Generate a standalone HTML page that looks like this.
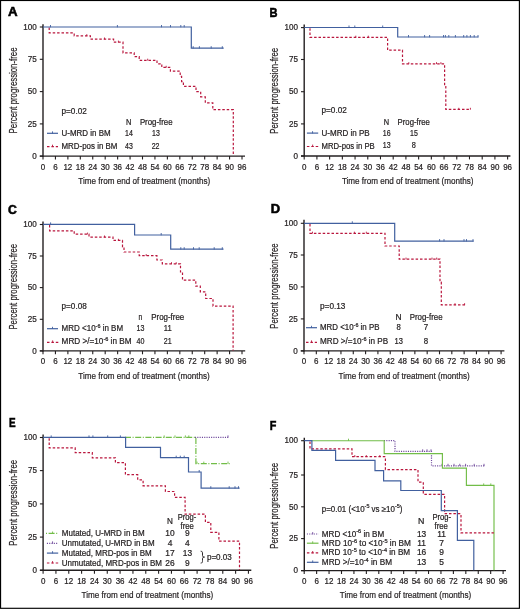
<!DOCTYPE html>
<html><head><meta charset="utf-8"><style>html,body{margin:0;padding:0;background:#fff;}svg{display:block;}</style></head><body>
<svg style="will-change:transform" width="520" height="609" viewBox="0 0 520 609" font-family='"Liberation Sans", sans-serif' fill="#231f20">
<style>text{stroke:#231f20;stroke-width:0.22px;}</style>
<rect x="0" y="0" width="520" height="609" fill="#fff"/>
<path d="M43.0,24.2 V156.7" stroke="#231f20" stroke-width="1.4" fill="none"/>
<path d="M39.8,156.1 H245.0" stroke="#231f20" stroke-width="1.4" fill="none"/>
<path d="M39.8,27.0 H43.0" stroke="#231f20" stroke-width="1.1"/>
<text x="36.80" y="29.75" font-size="8.5" text-anchor="end" textLength="13.50" lengthAdjust="spacingAndGlyphs">100</text>
<path d="M39.8,59.3 H43.0" stroke="#231f20" stroke-width="1.1"/>
<text x="36.80" y="62.05" font-size="8.5" text-anchor="end" textLength="9.00" lengthAdjust="spacingAndGlyphs">75</text>
<path d="M39.8,91.6 H43.0" stroke="#231f20" stroke-width="1.1"/>
<text x="36.80" y="94.35" font-size="8.5" text-anchor="end" textLength="9.00" lengthAdjust="spacingAndGlyphs">50</text>
<path d="M39.8,123.9 H43.0" stroke="#231f20" stroke-width="1.1"/>
<text x="36.80" y="126.65" font-size="8.5" text-anchor="end" textLength="9.00" lengthAdjust="spacingAndGlyphs">25</text>
<path d="M39.8,156.1 H43.0" stroke="#231f20" stroke-width="1.1"/>
<text x="36.80" y="158.85" font-size="8.5" text-anchor="end" textLength="4.50" lengthAdjust="spacingAndGlyphs">0</text>
<path d="M43.00,156.1 V159.5" stroke="#231f20" stroke-width="1.1"/>
<text x="43.00" y="169.60" font-size="8.5" text-anchor="middle" textLength="4.45" lengthAdjust="spacingAndGlyphs">0</text>
<path d="M55.44,156.1 V159.5" stroke="#231f20" stroke-width="1.1"/>
<text x="55.44" y="169.60" font-size="8.5" text-anchor="middle" textLength="4.45" lengthAdjust="spacingAndGlyphs">6</text>
<path d="M67.88,156.1 V159.5" stroke="#231f20" stroke-width="1.1"/>
<text x="67.88" y="169.60" font-size="8.5" text-anchor="middle" textLength="8.90" lengthAdjust="spacingAndGlyphs">12</text>
<path d="M80.31,156.1 V159.5" stroke="#231f20" stroke-width="1.1"/>
<text x="80.31" y="169.60" font-size="8.5" text-anchor="middle" textLength="8.90" lengthAdjust="spacingAndGlyphs">18</text>
<path d="M92.75,156.1 V159.5" stroke="#231f20" stroke-width="1.1"/>
<text x="92.75" y="169.60" font-size="8.5" text-anchor="middle" textLength="8.90" lengthAdjust="spacingAndGlyphs">24</text>
<path d="M105.19,156.1 V159.5" stroke="#231f20" stroke-width="1.1"/>
<text x="105.19" y="169.60" font-size="8.5" text-anchor="middle" textLength="8.90" lengthAdjust="spacingAndGlyphs">30</text>
<path d="M117.63,156.1 V159.5" stroke="#231f20" stroke-width="1.1"/>
<text x="117.63" y="169.60" font-size="8.5" text-anchor="middle" textLength="8.90" lengthAdjust="spacingAndGlyphs">36</text>
<path d="M130.07,156.1 V159.5" stroke="#231f20" stroke-width="1.1"/>
<text x="130.07" y="169.60" font-size="8.5" text-anchor="middle" textLength="8.90" lengthAdjust="spacingAndGlyphs">42</text>
<path d="M142.50,156.1 V159.5" stroke="#231f20" stroke-width="1.1"/>
<text x="142.50" y="169.60" font-size="8.5" text-anchor="middle" textLength="8.90" lengthAdjust="spacingAndGlyphs">48</text>
<path d="M154.94,156.1 V159.5" stroke="#231f20" stroke-width="1.1"/>
<text x="154.94" y="169.60" font-size="8.5" text-anchor="middle" textLength="8.90" lengthAdjust="spacingAndGlyphs">54</text>
<path d="M167.38,156.1 V159.5" stroke="#231f20" stroke-width="1.1"/>
<text x="167.38" y="169.60" font-size="8.5" text-anchor="middle" textLength="8.90" lengthAdjust="spacingAndGlyphs">60</text>
<path d="M179.82,156.1 V159.5" stroke="#231f20" stroke-width="1.1"/>
<text x="179.82" y="169.60" font-size="8.5" text-anchor="middle" textLength="8.90" lengthAdjust="spacingAndGlyphs">66</text>
<path d="M192.26,156.1 V159.5" stroke="#231f20" stroke-width="1.1"/>
<text x="192.26" y="169.60" font-size="8.5" text-anchor="middle" textLength="8.90" lengthAdjust="spacingAndGlyphs">72</text>
<path d="M204.69,156.1 V159.5" stroke="#231f20" stroke-width="1.1"/>
<text x="204.69" y="169.60" font-size="8.5" text-anchor="middle" textLength="8.90" lengthAdjust="spacingAndGlyphs">78</text>
<path d="M217.13,156.1 V159.5" stroke="#231f20" stroke-width="1.1"/>
<text x="217.13" y="169.60" font-size="8.5" text-anchor="middle" textLength="8.90" lengthAdjust="spacingAndGlyphs">84</text>
<path d="M229.57,156.1 V159.5" stroke="#231f20" stroke-width="1.1"/>
<text x="229.57" y="169.60" font-size="8.5" text-anchor="middle" textLength="8.90" lengthAdjust="spacingAndGlyphs">90</text>
<path d="M242.01,156.1 V159.5" stroke="#231f20" stroke-width="1.1"/>
<text x="242.01" y="169.60" font-size="8.5" text-anchor="middle" textLength="8.90" lengthAdjust="spacingAndGlyphs">96</text>
<text transform="translate(17.0,90.45) rotate(-90)" font-size="10" text-anchor="middle" textLength="85.90" lengthAdjust="spacingAndGlyphs">Percent progression-free</text>
<text x="78.30" y="183.70" font-size="9.6" textLength="131.90" lengthAdjust="spacingAndGlyphs">Time from end of treatment (months)</text>
<text x="8.10" y="16.10" font-size="12.4" textLength="9.60" lengthAdjust="spacingAndGlyphs" font-weight="bold" fill="#000" style="stroke:#000;stroke-width:0.55px">A</text>
<path d="M304.2,24.6 V156.6" stroke="#231f20" stroke-width="1.4" fill="none"/>
<path d="M301.0,156.0 H510.4" stroke="#231f20" stroke-width="1.4" fill="none"/>
<path d="M301.0,27.6 H304.2" stroke="#231f20" stroke-width="1.1"/>
<text x="298.00" y="30.35" font-size="8.5" text-anchor="end" textLength="13.50" lengthAdjust="spacingAndGlyphs">100</text>
<path d="M301.0,59.5 H304.2" stroke="#231f20" stroke-width="1.1"/>
<text x="298.00" y="62.25" font-size="8.5" text-anchor="end" textLength="9.00" lengthAdjust="spacingAndGlyphs">75</text>
<path d="M301.0,91.7 H304.2" stroke="#231f20" stroke-width="1.1"/>
<text x="298.00" y="94.45" font-size="8.5" text-anchor="end" textLength="9.00" lengthAdjust="spacingAndGlyphs">50</text>
<path d="M301.0,123.9 H304.2" stroke="#231f20" stroke-width="1.1"/>
<text x="298.00" y="126.65" font-size="8.5" text-anchor="end" textLength="9.00" lengthAdjust="spacingAndGlyphs">25</text>
<path d="M301.0,156.0 H304.2" stroke="#231f20" stroke-width="1.1"/>
<text x="298.00" y="158.75" font-size="8.5" text-anchor="end" textLength="4.50" lengthAdjust="spacingAndGlyphs">0</text>
<path d="M304.20,156.0 V159.4" stroke="#231f20" stroke-width="1.1"/>
<text x="304.20" y="169.50" font-size="8.5" text-anchor="middle" textLength="4.45" lengthAdjust="spacingAndGlyphs">0</text>
<path d="M316.91,156.0 V159.4" stroke="#231f20" stroke-width="1.1"/>
<text x="316.91" y="169.50" font-size="8.5" text-anchor="middle" textLength="4.45" lengthAdjust="spacingAndGlyphs">6</text>
<path d="M329.63,156.0 V159.4" stroke="#231f20" stroke-width="1.1"/>
<text x="329.63" y="169.50" font-size="8.5" text-anchor="middle" textLength="8.90" lengthAdjust="spacingAndGlyphs">12</text>
<path d="M342.34,156.0 V159.4" stroke="#231f20" stroke-width="1.1"/>
<text x="342.34" y="169.50" font-size="8.5" text-anchor="middle" textLength="8.90" lengthAdjust="spacingAndGlyphs">18</text>
<path d="M355.06,156.0 V159.4" stroke="#231f20" stroke-width="1.1"/>
<text x="355.06" y="169.50" font-size="8.5" text-anchor="middle" textLength="8.90" lengthAdjust="spacingAndGlyphs">24</text>
<path d="M367.77,156.0 V159.4" stroke="#231f20" stroke-width="1.1"/>
<text x="367.77" y="169.50" font-size="8.5" text-anchor="middle" textLength="8.90" lengthAdjust="spacingAndGlyphs">30</text>
<path d="M380.48,156.0 V159.4" stroke="#231f20" stroke-width="1.1"/>
<text x="380.48" y="169.50" font-size="8.5" text-anchor="middle" textLength="8.90" lengthAdjust="spacingAndGlyphs">36</text>
<path d="M393.20,156.0 V159.4" stroke="#231f20" stroke-width="1.1"/>
<text x="393.20" y="169.50" font-size="8.5" text-anchor="middle" textLength="8.90" lengthAdjust="spacingAndGlyphs">42</text>
<path d="M405.91,156.0 V159.4" stroke="#231f20" stroke-width="1.1"/>
<text x="405.91" y="169.50" font-size="8.5" text-anchor="middle" textLength="8.90" lengthAdjust="spacingAndGlyphs">48</text>
<path d="M418.63,156.0 V159.4" stroke="#231f20" stroke-width="1.1"/>
<text x="418.63" y="169.50" font-size="8.5" text-anchor="middle" textLength="8.90" lengthAdjust="spacingAndGlyphs">54</text>
<path d="M431.34,156.0 V159.4" stroke="#231f20" stroke-width="1.1"/>
<text x="431.34" y="169.50" font-size="8.5" text-anchor="middle" textLength="8.90" lengthAdjust="spacingAndGlyphs">60</text>
<path d="M444.05,156.0 V159.4" stroke="#231f20" stroke-width="1.1"/>
<text x="444.05" y="169.50" font-size="8.5" text-anchor="middle" textLength="8.90" lengthAdjust="spacingAndGlyphs">66</text>
<path d="M456.77,156.0 V159.4" stroke="#231f20" stroke-width="1.1"/>
<text x="456.77" y="169.50" font-size="8.5" text-anchor="middle" textLength="8.90" lengthAdjust="spacingAndGlyphs">72</text>
<path d="M469.48,156.0 V159.4" stroke="#231f20" stroke-width="1.1"/>
<text x="469.48" y="169.50" font-size="8.5" text-anchor="middle" textLength="8.90" lengthAdjust="spacingAndGlyphs">78</text>
<path d="M482.20,156.0 V159.4" stroke="#231f20" stroke-width="1.1"/>
<text x="482.20" y="169.50" font-size="8.5" text-anchor="middle" textLength="8.90" lengthAdjust="spacingAndGlyphs">84</text>
<path d="M494.91,156.0 V159.4" stroke="#231f20" stroke-width="1.1"/>
<text x="494.91" y="169.50" font-size="8.5" text-anchor="middle" textLength="8.90" lengthAdjust="spacingAndGlyphs">90</text>
<path d="M507.62,156.0 V159.4" stroke="#231f20" stroke-width="1.1"/>
<text x="507.62" y="169.50" font-size="8.5" text-anchor="middle" textLength="8.90" lengthAdjust="spacingAndGlyphs">96</text>
<text transform="translate(277.7,90.75) rotate(-90)" font-size="10" text-anchor="middle" textLength="85.90" lengthAdjust="spacingAndGlyphs">Percent progression-free</text>
<text x="341.90" y="183.70" font-size="9.6" textLength="131.60" lengthAdjust="spacingAndGlyphs">Time from end of treatment (months)</text>
<text x="269.50" y="16.60" font-size="12.4" textLength="8.00" lengthAdjust="spacingAndGlyphs" font-weight="bold" fill="#000" style="stroke:#000;stroke-width:0.55px">B</text>
<path d="M43.0,221.5 V351.5" stroke="#231f20" stroke-width="1.4" fill="none"/>
<path d="M39.8,350.9 H245.2" stroke="#231f20" stroke-width="1.4" fill="none"/>
<path d="M39.8,224.5 H43.0" stroke="#231f20" stroke-width="1.1"/>
<text x="36.80" y="227.25" font-size="8.5" text-anchor="end" textLength="13.50" lengthAdjust="spacingAndGlyphs">100</text>
<path d="M39.8,256.0 H43.0" stroke="#231f20" stroke-width="1.1"/>
<text x="36.80" y="258.75" font-size="8.5" text-anchor="end" textLength="9.00" lengthAdjust="spacingAndGlyphs">75</text>
<path d="M39.8,287.6 H43.0" stroke="#231f20" stroke-width="1.1"/>
<text x="36.80" y="290.35" font-size="8.5" text-anchor="end" textLength="9.00" lengthAdjust="spacingAndGlyphs">50</text>
<path d="M39.8,319.3 H43.0" stroke="#231f20" stroke-width="1.1"/>
<text x="36.80" y="322.05" font-size="8.5" text-anchor="end" textLength="9.00" lengthAdjust="spacingAndGlyphs">25</text>
<path d="M39.8,350.9 H43.0" stroke="#231f20" stroke-width="1.1"/>
<text x="36.80" y="353.65" font-size="8.5" text-anchor="end" textLength="4.50" lengthAdjust="spacingAndGlyphs">0</text>
<path d="M43.00,350.9 V354.29999999999995" stroke="#231f20" stroke-width="1.1"/>
<text x="43.00" y="364.40" font-size="8.5" text-anchor="middle" textLength="4.45" lengthAdjust="spacingAndGlyphs">0</text>
<path d="M55.44,350.9 V354.29999999999995" stroke="#231f20" stroke-width="1.1"/>
<text x="55.44" y="364.40" font-size="8.5" text-anchor="middle" textLength="4.45" lengthAdjust="spacingAndGlyphs">6</text>
<path d="M67.88,350.9 V354.29999999999995" stroke="#231f20" stroke-width="1.1"/>
<text x="67.88" y="364.40" font-size="8.5" text-anchor="middle" textLength="8.90" lengthAdjust="spacingAndGlyphs">12</text>
<path d="M80.31,350.9 V354.29999999999995" stroke="#231f20" stroke-width="1.1"/>
<text x="80.31" y="364.40" font-size="8.5" text-anchor="middle" textLength="8.90" lengthAdjust="spacingAndGlyphs">18</text>
<path d="M92.75,350.9 V354.29999999999995" stroke="#231f20" stroke-width="1.1"/>
<text x="92.75" y="364.40" font-size="8.5" text-anchor="middle" textLength="8.90" lengthAdjust="spacingAndGlyphs">24</text>
<path d="M105.19,350.9 V354.29999999999995" stroke="#231f20" stroke-width="1.1"/>
<text x="105.19" y="364.40" font-size="8.5" text-anchor="middle" textLength="8.90" lengthAdjust="spacingAndGlyphs">30</text>
<path d="M117.63,350.9 V354.29999999999995" stroke="#231f20" stroke-width="1.1"/>
<text x="117.63" y="364.40" font-size="8.5" text-anchor="middle" textLength="8.90" lengthAdjust="spacingAndGlyphs">36</text>
<path d="M130.07,350.9 V354.29999999999995" stroke="#231f20" stroke-width="1.1"/>
<text x="130.07" y="364.40" font-size="8.5" text-anchor="middle" textLength="8.90" lengthAdjust="spacingAndGlyphs">42</text>
<path d="M142.50,350.9 V354.29999999999995" stroke="#231f20" stroke-width="1.1"/>
<text x="142.50" y="364.40" font-size="8.5" text-anchor="middle" textLength="8.90" lengthAdjust="spacingAndGlyphs">48</text>
<path d="M154.94,350.9 V354.29999999999995" stroke="#231f20" stroke-width="1.1"/>
<text x="154.94" y="364.40" font-size="8.5" text-anchor="middle" textLength="8.90" lengthAdjust="spacingAndGlyphs">54</text>
<path d="M167.38,350.9 V354.29999999999995" stroke="#231f20" stroke-width="1.1"/>
<text x="167.38" y="364.40" font-size="8.5" text-anchor="middle" textLength="8.90" lengthAdjust="spacingAndGlyphs">60</text>
<path d="M179.82,350.9 V354.29999999999995" stroke="#231f20" stroke-width="1.1"/>
<text x="179.82" y="364.40" font-size="8.5" text-anchor="middle" textLength="8.90" lengthAdjust="spacingAndGlyphs">66</text>
<path d="M192.26,350.9 V354.29999999999995" stroke="#231f20" stroke-width="1.1"/>
<text x="192.26" y="364.40" font-size="8.5" text-anchor="middle" textLength="8.90" lengthAdjust="spacingAndGlyphs">72</text>
<path d="M204.69,350.9 V354.29999999999995" stroke="#231f20" stroke-width="1.1"/>
<text x="204.69" y="364.40" font-size="8.5" text-anchor="middle" textLength="8.90" lengthAdjust="spacingAndGlyphs">78</text>
<path d="M217.13,350.9 V354.29999999999995" stroke="#231f20" stroke-width="1.1"/>
<text x="217.13" y="364.40" font-size="8.5" text-anchor="middle" textLength="8.90" lengthAdjust="spacingAndGlyphs">84</text>
<path d="M229.57,350.9 V354.29999999999995" stroke="#231f20" stroke-width="1.1"/>
<text x="229.57" y="364.40" font-size="8.5" text-anchor="middle" textLength="8.90" lengthAdjust="spacingAndGlyphs">90</text>
<path d="M242.01,350.9 V354.29999999999995" stroke="#231f20" stroke-width="1.1"/>
<text x="242.01" y="364.40" font-size="8.5" text-anchor="middle" textLength="8.90" lengthAdjust="spacingAndGlyphs">96</text>
<text transform="translate(17.0,286.70) rotate(-90)" font-size="10" text-anchor="middle" textLength="85.80" lengthAdjust="spacingAndGlyphs">Percent progression-free</text>
<text x="78.30" y="378.70" font-size="9.6" textLength="131.50" lengthAdjust="spacingAndGlyphs">Time from end of treatment (months)</text>
<text x="8.00" y="213.60" font-size="12.4" textLength="8.80" lengthAdjust="spacingAndGlyphs" font-weight="bold" fill="#000" style="stroke:#000;stroke-width:0.55px">C</text>
<path d="M304.0,219.8 V351.5" stroke="#231f20" stroke-width="1.4" fill="none"/>
<path d="M300.8,350.9 H504.4" stroke="#231f20" stroke-width="1.4" fill="none"/>
<path d="M300.8,223.3 H304.0" stroke="#231f20" stroke-width="1.1"/>
<text x="297.80" y="226.05" font-size="8.5" text-anchor="end" textLength="13.50" lengthAdjust="spacingAndGlyphs">100</text>
<path d="M300.8,255.0 H304.0" stroke="#231f20" stroke-width="1.1"/>
<text x="297.80" y="257.75" font-size="8.5" text-anchor="end" textLength="9.00" lengthAdjust="spacingAndGlyphs">75</text>
<path d="M300.8,286.9 H304.0" stroke="#231f20" stroke-width="1.1"/>
<text x="297.80" y="289.65" font-size="8.5" text-anchor="end" textLength="9.00" lengthAdjust="spacingAndGlyphs">50</text>
<path d="M300.8,318.9 H304.0" stroke="#231f20" stroke-width="1.1"/>
<text x="297.80" y="321.65" font-size="8.5" text-anchor="end" textLength="9.00" lengthAdjust="spacingAndGlyphs">25</text>
<path d="M300.8,350.9 H304.0" stroke="#231f20" stroke-width="1.1"/>
<text x="297.80" y="353.65" font-size="8.5" text-anchor="end" textLength="4.50" lengthAdjust="spacingAndGlyphs">0</text>
<path d="M304.00,350.9 V354.29999999999995" stroke="#231f20" stroke-width="1.1"/>
<text x="304.00" y="364.40" font-size="8.5" text-anchor="middle" textLength="4.45" lengthAdjust="spacingAndGlyphs">0</text>
<path d="M316.32,350.9 V354.29999999999995" stroke="#231f20" stroke-width="1.1"/>
<text x="316.32" y="364.40" font-size="8.5" text-anchor="middle" textLength="4.45" lengthAdjust="spacingAndGlyphs">6</text>
<path d="M328.64,350.9 V354.29999999999995" stroke="#231f20" stroke-width="1.1"/>
<text x="328.64" y="364.40" font-size="8.5" text-anchor="middle" textLength="8.90" lengthAdjust="spacingAndGlyphs">12</text>
<path d="M340.95,350.9 V354.29999999999995" stroke="#231f20" stroke-width="1.1"/>
<text x="340.95" y="364.40" font-size="8.5" text-anchor="middle" textLength="8.90" lengthAdjust="spacingAndGlyphs">18</text>
<path d="M353.27,350.9 V354.29999999999995" stroke="#231f20" stroke-width="1.1"/>
<text x="353.27" y="364.40" font-size="8.5" text-anchor="middle" textLength="8.90" lengthAdjust="spacingAndGlyphs">24</text>
<path d="M365.59,350.9 V354.29999999999995" stroke="#231f20" stroke-width="1.1"/>
<text x="365.59" y="364.40" font-size="8.5" text-anchor="middle" textLength="8.90" lengthAdjust="spacingAndGlyphs">30</text>
<path d="M377.91,350.9 V354.29999999999995" stroke="#231f20" stroke-width="1.1"/>
<text x="377.91" y="364.40" font-size="8.5" text-anchor="middle" textLength="8.90" lengthAdjust="spacingAndGlyphs">36</text>
<path d="M390.23,350.9 V354.29999999999995" stroke="#231f20" stroke-width="1.1"/>
<text x="390.23" y="364.40" font-size="8.5" text-anchor="middle" textLength="8.90" lengthAdjust="spacingAndGlyphs">42</text>
<path d="M402.54,350.9 V354.29999999999995" stroke="#231f20" stroke-width="1.1"/>
<text x="402.54" y="364.40" font-size="8.5" text-anchor="middle" textLength="8.90" lengthAdjust="spacingAndGlyphs">48</text>
<path d="M414.86,350.9 V354.29999999999995" stroke="#231f20" stroke-width="1.1"/>
<text x="414.86" y="364.40" font-size="8.5" text-anchor="middle" textLength="8.90" lengthAdjust="spacingAndGlyphs">54</text>
<path d="M427.18,350.9 V354.29999999999995" stroke="#231f20" stroke-width="1.1"/>
<text x="427.18" y="364.40" font-size="8.5" text-anchor="middle" textLength="8.90" lengthAdjust="spacingAndGlyphs">60</text>
<path d="M439.50,350.9 V354.29999999999995" stroke="#231f20" stroke-width="1.1"/>
<text x="439.50" y="364.40" font-size="8.5" text-anchor="middle" textLength="8.90" lengthAdjust="spacingAndGlyphs">66</text>
<path d="M451.82,350.9 V354.29999999999995" stroke="#231f20" stroke-width="1.1"/>
<text x="451.82" y="364.40" font-size="8.5" text-anchor="middle" textLength="8.90" lengthAdjust="spacingAndGlyphs">72</text>
<path d="M464.13,350.9 V354.29999999999995" stroke="#231f20" stroke-width="1.1"/>
<text x="464.13" y="364.40" font-size="8.5" text-anchor="middle" textLength="8.90" lengthAdjust="spacingAndGlyphs">78</text>
<path d="M476.45,350.9 V354.29999999999995" stroke="#231f20" stroke-width="1.1"/>
<text x="476.45" y="364.40" font-size="8.5" text-anchor="middle" textLength="8.90" lengthAdjust="spacingAndGlyphs">84</text>
<path d="M488.77,350.9 V354.29999999999995" stroke="#231f20" stroke-width="1.1"/>
<text x="488.77" y="364.40" font-size="8.5" text-anchor="middle" textLength="8.90" lengthAdjust="spacingAndGlyphs">90</text>
<path d="M501.09,350.9 V354.29999999999995" stroke="#231f20" stroke-width="1.1"/>
<text x="501.09" y="364.40" font-size="8.5" text-anchor="middle" textLength="8.90" lengthAdjust="spacingAndGlyphs">96</text>
<text transform="translate(277.7,286.05) rotate(-90)" font-size="10" text-anchor="middle" textLength="85.30" lengthAdjust="spacingAndGlyphs">Percent progression-free</text>
<text x="338.60" y="378.70" font-size="9.6" textLength="131.20" lengthAdjust="spacingAndGlyphs">Time from end of treatment (months)</text>
<text x="270.80" y="212.70" font-size="12.4" textLength="9.40" lengthAdjust="spacingAndGlyphs" font-weight="bold" fill="#000" style="stroke:#000;stroke-width:0.55px">D</text>
<path d="M43.1,434.5 V570.9" stroke="#231f20" stroke-width="1.4" fill="none"/>
<path d="M39.9,570.3 H251.3" stroke="#231f20" stroke-width="1.4" fill="none"/>
<path d="M39.9,437.5 H43.1" stroke="#231f20" stroke-width="1.1"/>
<text x="36.90" y="440.25" font-size="8.5" text-anchor="end" textLength="13.50" lengthAdjust="spacingAndGlyphs">100</text>
<path d="M39.9,470.6 H43.1" stroke="#231f20" stroke-width="1.1"/>
<text x="36.90" y="473.35" font-size="8.5" text-anchor="end" textLength="9.00" lengthAdjust="spacingAndGlyphs">75</text>
<path d="M39.9,503.9 H43.1" stroke="#231f20" stroke-width="1.1"/>
<text x="36.90" y="506.65" font-size="8.5" text-anchor="end" textLength="9.00" lengthAdjust="spacingAndGlyphs">50</text>
<path d="M39.9,537.1 H43.1" stroke="#231f20" stroke-width="1.1"/>
<text x="36.90" y="539.85" font-size="8.5" text-anchor="end" textLength="9.00" lengthAdjust="spacingAndGlyphs">25</text>
<path d="M39.9,570.3 H43.1" stroke="#231f20" stroke-width="1.1"/>
<text x="36.90" y="573.05" font-size="8.5" text-anchor="end" textLength="4.50" lengthAdjust="spacingAndGlyphs">0</text>
<path d="M43.10,570.3 V573.6999999999999" stroke="#231f20" stroke-width="1.1"/>
<text x="43.10" y="583.80" font-size="8.5" text-anchor="middle" textLength="4.45" lengthAdjust="spacingAndGlyphs">0</text>
<path d="M55.93,570.3 V573.6999999999999" stroke="#231f20" stroke-width="1.1"/>
<text x="55.93" y="583.80" font-size="8.5" text-anchor="middle" textLength="4.45" lengthAdjust="spacingAndGlyphs">6</text>
<path d="M68.77,570.3 V573.6999999999999" stroke="#231f20" stroke-width="1.1"/>
<text x="68.77" y="583.80" font-size="8.5" text-anchor="middle" textLength="8.90" lengthAdjust="spacingAndGlyphs">12</text>
<path d="M81.60,570.3 V573.6999999999999" stroke="#231f20" stroke-width="1.1"/>
<text x="81.60" y="583.80" font-size="8.5" text-anchor="middle" textLength="8.90" lengthAdjust="spacingAndGlyphs">18</text>
<path d="M94.44,570.3 V573.6999999999999" stroke="#231f20" stroke-width="1.1"/>
<text x="94.44" y="583.80" font-size="8.5" text-anchor="middle" textLength="8.90" lengthAdjust="spacingAndGlyphs">24</text>
<path d="M107.27,570.3 V573.6999999999999" stroke="#231f20" stroke-width="1.1"/>
<text x="107.27" y="583.80" font-size="8.5" text-anchor="middle" textLength="8.90" lengthAdjust="spacingAndGlyphs">30</text>
<path d="M120.10,570.3 V573.6999999999999" stroke="#231f20" stroke-width="1.1"/>
<text x="120.10" y="583.80" font-size="8.5" text-anchor="middle" textLength="8.90" lengthAdjust="spacingAndGlyphs">36</text>
<path d="M132.94,570.3 V573.6999999999999" stroke="#231f20" stroke-width="1.1"/>
<text x="132.94" y="583.80" font-size="8.5" text-anchor="middle" textLength="8.90" lengthAdjust="spacingAndGlyphs">42</text>
<path d="M145.77,570.3 V573.6999999999999" stroke="#231f20" stroke-width="1.1"/>
<text x="145.77" y="583.80" font-size="8.5" text-anchor="middle" textLength="8.90" lengthAdjust="spacingAndGlyphs">48</text>
<path d="M158.61,570.3 V573.6999999999999" stroke="#231f20" stroke-width="1.1"/>
<text x="158.61" y="583.80" font-size="8.5" text-anchor="middle" textLength="8.90" lengthAdjust="spacingAndGlyphs">54</text>
<path d="M171.44,570.3 V573.6999999999999" stroke="#231f20" stroke-width="1.1"/>
<text x="171.44" y="583.80" font-size="8.5" text-anchor="middle" textLength="8.90" lengthAdjust="spacingAndGlyphs">60</text>
<path d="M184.27,570.3 V573.6999999999999" stroke="#231f20" stroke-width="1.1"/>
<text x="184.27" y="583.80" font-size="8.5" text-anchor="middle" textLength="8.90" lengthAdjust="spacingAndGlyphs">66</text>
<path d="M197.11,570.3 V573.6999999999999" stroke="#231f20" stroke-width="1.1"/>
<text x="197.11" y="583.80" font-size="8.5" text-anchor="middle" textLength="8.90" lengthAdjust="spacingAndGlyphs">72</text>
<path d="M209.94,570.3 V573.6999999999999" stroke="#231f20" stroke-width="1.1"/>
<text x="209.94" y="583.80" font-size="8.5" text-anchor="middle" textLength="8.90" lengthAdjust="spacingAndGlyphs">78</text>
<path d="M222.78,570.3 V573.6999999999999" stroke="#231f20" stroke-width="1.1"/>
<text x="222.78" y="583.80" font-size="8.5" text-anchor="middle" textLength="8.90" lengthAdjust="spacingAndGlyphs">84</text>
<path d="M235.61,570.3 V573.6999999999999" stroke="#231f20" stroke-width="1.1"/>
<text x="235.61" y="583.80" font-size="8.5" text-anchor="middle" textLength="8.90" lengthAdjust="spacingAndGlyphs">90</text>
<path d="M248.44,570.3 V573.6999999999999" stroke="#231f20" stroke-width="1.1"/>
<text x="248.44" y="583.80" font-size="8.5" text-anchor="middle" textLength="8.90" lengthAdjust="spacingAndGlyphs">96</text>
<text transform="translate(17.0,502.80) rotate(-90)" font-size="10" text-anchor="middle" textLength="85.80" lengthAdjust="spacingAndGlyphs">Percent progression-free</text>
<text x="81.50" y="598.10" font-size="9.6" textLength="131.80" lengthAdjust="spacingAndGlyphs">Time from end of treatment (months)</text>
<text x="8.90" y="426.50" font-size="12.4" textLength="6.60" lengthAdjust="spacingAndGlyphs" font-weight="bold" fill="#000" style="stroke:#000;stroke-width:0.55px">E</text>
<path d="M304.3,437.8 V571.2" stroke="#231f20" stroke-width="1.4" fill="none"/>
<path d="M301.1,570.6 H506.0" stroke="#231f20" stroke-width="1.4" fill="none"/>
<path d="M301.1,440.7 H304.3" stroke="#231f20" stroke-width="1.1"/>
<text x="298.10" y="443.45" font-size="8.5" text-anchor="end" textLength="13.50" lengthAdjust="spacingAndGlyphs">100</text>
<path d="M301.1,475.0 H304.3" stroke="#231f20" stroke-width="1.1"/>
<text x="298.10" y="477.75" font-size="8.5" text-anchor="end" textLength="9.00" lengthAdjust="spacingAndGlyphs">75</text>
<path d="M301.1,506.8 H304.3" stroke="#231f20" stroke-width="1.1"/>
<text x="298.10" y="509.55" font-size="8.5" text-anchor="end" textLength="9.00" lengthAdjust="spacingAndGlyphs">50</text>
<path d="M301.1,538.6 H304.3" stroke="#231f20" stroke-width="1.1"/>
<text x="298.10" y="541.35" font-size="8.5" text-anchor="end" textLength="9.00" lengthAdjust="spacingAndGlyphs">25</text>
<path d="M301.1,570.6 H304.3" stroke="#231f20" stroke-width="1.1"/>
<text x="298.10" y="573.35" font-size="8.5" text-anchor="end" textLength="4.50" lengthAdjust="spacingAndGlyphs">0</text>
<path d="M304.20,570.6 V574.0" stroke="#231f20" stroke-width="1.1"/>
<text x="304.20" y="584.10" font-size="8.5" text-anchor="middle" textLength="4.45" lengthAdjust="spacingAndGlyphs">0</text>
<path d="M316.63,570.6 V574.0" stroke="#231f20" stroke-width="1.1"/>
<text x="316.63" y="584.10" font-size="8.5" text-anchor="middle" textLength="4.45" lengthAdjust="spacingAndGlyphs">6</text>
<path d="M329.06,570.6 V574.0" stroke="#231f20" stroke-width="1.1"/>
<text x="329.06" y="584.10" font-size="8.5" text-anchor="middle" textLength="8.90" lengthAdjust="spacingAndGlyphs">12</text>
<path d="M341.50,570.6 V574.0" stroke="#231f20" stroke-width="1.1"/>
<text x="341.50" y="584.10" font-size="8.5" text-anchor="middle" textLength="8.90" lengthAdjust="spacingAndGlyphs">18</text>
<path d="M353.93,570.6 V574.0" stroke="#231f20" stroke-width="1.1"/>
<text x="353.93" y="584.10" font-size="8.5" text-anchor="middle" textLength="8.90" lengthAdjust="spacingAndGlyphs">24</text>
<path d="M366.36,570.6 V574.0" stroke="#231f20" stroke-width="1.1"/>
<text x="366.36" y="584.10" font-size="8.5" text-anchor="middle" textLength="8.90" lengthAdjust="spacingAndGlyphs">30</text>
<path d="M378.79,570.6 V574.0" stroke="#231f20" stroke-width="1.1"/>
<text x="378.79" y="584.10" font-size="8.5" text-anchor="middle" textLength="8.90" lengthAdjust="spacingAndGlyphs">36</text>
<path d="M391.22,570.6 V574.0" stroke="#231f20" stroke-width="1.1"/>
<text x="391.22" y="584.10" font-size="8.5" text-anchor="middle" textLength="8.90" lengthAdjust="spacingAndGlyphs">42</text>
<path d="M403.66,570.6 V574.0" stroke="#231f20" stroke-width="1.1"/>
<text x="403.66" y="584.10" font-size="8.5" text-anchor="middle" textLength="8.90" lengthAdjust="spacingAndGlyphs">48</text>
<path d="M416.09,570.6 V574.0" stroke="#231f20" stroke-width="1.1"/>
<text x="416.09" y="584.10" font-size="8.5" text-anchor="middle" textLength="8.90" lengthAdjust="spacingAndGlyphs">54</text>
<path d="M428.52,570.6 V574.0" stroke="#231f20" stroke-width="1.1"/>
<text x="428.52" y="584.10" font-size="8.5" text-anchor="middle" textLength="8.90" lengthAdjust="spacingAndGlyphs">60</text>
<path d="M440.95,570.6 V574.0" stroke="#231f20" stroke-width="1.1"/>
<text x="440.95" y="584.10" font-size="8.5" text-anchor="middle" textLength="8.90" lengthAdjust="spacingAndGlyphs">66</text>
<path d="M453.38,570.6 V574.0" stroke="#231f20" stroke-width="1.1"/>
<text x="453.38" y="584.10" font-size="8.5" text-anchor="middle" textLength="8.90" lengthAdjust="spacingAndGlyphs">72</text>
<path d="M465.82,570.6 V574.0" stroke="#231f20" stroke-width="1.1"/>
<text x="465.82" y="584.10" font-size="8.5" text-anchor="middle" textLength="8.90" lengthAdjust="spacingAndGlyphs">78</text>
<path d="M478.25,570.6 V574.0" stroke="#231f20" stroke-width="1.1"/>
<text x="478.25" y="584.10" font-size="8.5" text-anchor="middle" textLength="8.90" lengthAdjust="spacingAndGlyphs">84</text>
<path d="M490.68,570.6 V574.0" stroke="#231f20" stroke-width="1.1"/>
<text x="490.68" y="584.10" font-size="8.5" text-anchor="middle" textLength="8.90" lengthAdjust="spacingAndGlyphs">90</text>
<path d="M503.11,570.6 V574.0" stroke="#231f20" stroke-width="1.1"/>
<text x="503.11" y="584.10" font-size="8.5" text-anchor="middle" textLength="8.90" lengthAdjust="spacingAndGlyphs">96</text>
<text transform="translate(277.8,505.75) rotate(-90)" font-size="10" text-anchor="middle" textLength="85.90" lengthAdjust="spacingAndGlyphs">Percent progression-free</text>
<text x="339.80" y="598.10" font-size="9.6" textLength="131.50" lengthAdjust="spacingAndGlyphs">Time from end of treatment (months)</text>
<text x="269.80" y="429.60" font-size="12.4" textLength="6.60" lengthAdjust="spacingAndGlyphs" font-weight="bold" fill="#000" style="stroke:#000;stroke-width:0.55px">F</text>
<path d="M49.2,27.6 V32.9 H74.2 V35.8 H90.4 V39.1 H113.6 V42.2 H123 V52.9 H134.2 V56.6 H139.2 V60.3 H157 V63.8 H161.8 V67.4 H170.4 V71.2 H180.2 V76.4 H181.6 V81.6 H183.4 V86.3 H196 V91.7 H200.7 V96.9 H205.3 V102.9 H212.8 V109.7 H233.3 V155.6" stroke="#b9163d" stroke-width="1.2" fill="none" stroke-dasharray="2.5 1.9"/>
<path d="M43,27 H191.3 V48.2 H223.7" stroke="#41609f" stroke-width="1.2" fill="none"/>
<path d="M86.8,36.099999999999994 V34.199999999999996 M104.5,39.4 V37.5 M118.4,42.5 V40.6 M147.7,60.599999999999994 V58.699999999999996 M166.2,67.7 V65.80000000000001" stroke="#b9163d" stroke-width="0.9" fill="none"/>
<path d="M50.5,27.3 V25.0 M117.4,27.3 V25.0 M161.5,27.3 V25.0 M170.5,27.3 V25.0 M180.8,27.3 V25.0 M184.2,27.3 V25.0 M193.2,48.5 V46.2 M199.4,48.5 V46.2 M211.2,48.5 V46.2 M222.3,48.5 V46.2" stroke="#41609f" stroke-width="0.9" fill="none"/>
<text x="61.50" y="113.50" font-size="8.4" textLength="25.30" lengthAdjust="spacingAndGlyphs">p=0.02</text>
<text x="125.90" y="124.50" font-size="8.4" textLength="5.40" lengthAdjust="spacingAndGlyphs">N</text>
<text x="139.90" y="124.50" font-size="8.4" textLength="32.70" lengthAdjust="spacingAndGlyphs">Prog-free</text>
<path d="M47,133.3 H58" stroke="#41609f" stroke-width="1.2" fill="none"/>
<path d="M52.50,133.60000000000002 V131.4" stroke="#41609f" stroke-width="0.9"/>
<path d="M47,146.6 H58" stroke="#b9163d" stroke-width="1.2" fill="none" stroke-dasharray="2.5 1.9"/>
<path d="M52.50,146.9 V144.7" stroke="#b9163d" stroke-width="0.9"/>
<text x="61.50" y="135.50" font-size="8.4" textLength="49.10" lengthAdjust="spacingAndGlyphs">U-MRD in BM</text>
<text x="61.50" y="148.80" font-size="8.4" textLength="55.90" lengthAdjust="spacingAndGlyphs">MRD-pos in BM</text>
<text x="125.10" y="135.60" font-size="8.4" textLength="7.80" lengthAdjust="spacingAndGlyphs">14</text>
<text x="152.10" y="135.60" font-size="8.4" textLength="7.80" lengthAdjust="spacingAndGlyphs">13</text>
<text x="125.10" y="148.80" font-size="8.4" textLength="7.80" lengthAdjust="spacingAndGlyphs">43</text>
<text x="151.70" y="148.80" font-size="8.4" textLength="7.80" lengthAdjust="spacingAndGlyphs">22</text>
<path d="M310,28.2 V37.3 H387.6 V50.2 H402.5 V63.8 H444.6 V86.5 H445.8 V109.4 H470.8" stroke="#b9163d" stroke-width="1.2" fill="none" stroke-dasharray="2.5 1.9"/>
<path d="M304.2,27.5 H397.7 V37 H478.5" stroke="#41609f" stroke-width="1.2" fill="none"/>
<path d="M349,27.8 V25.5 M354.8,27.8 V25.5 M382.7,27.8 V25.5 M408.5,37.3 V35.0 M424.6,37.3 V35.0 M429.6,37.3 V35.0 M443.5,37.3 V35.0 M445.4,37.3 V35.0 M448.8,37.3 V35.0 M455.4,37.3 V35.0 M463.7,37.3 V35.0 M466.9,37.3 V35.0 M470.4,37.3 V35.0 M474.2,37.3 V35.0 M478,37.3 V35.0" stroke="#41609f" stroke-width="0.9" fill="none"/>
<path d="M355.8,37.599999999999994 V35.699999999999996 M368.3,37.599999999999994 V35.699999999999996 M408.8,64.1 V62.199999999999996 M436.5,64.1 V62.199999999999996 M440.9,64.1 V62.199999999999996 M458.8,109.7 V107.80000000000001 M470.4,109.7 V107.80000000000001" stroke="#b9163d" stroke-width="0.9" fill="none"/>
<text x="321.50" y="113.40" font-size="8.4" textLength="25.30" lengthAdjust="spacingAndGlyphs">p=0.02</text>
<text x="383.70" y="124.50" font-size="8.4" textLength="5.40" lengthAdjust="spacingAndGlyphs">N</text>
<text x="397.60" y="124.50" font-size="8.4" textLength="32.30" lengthAdjust="spacingAndGlyphs">Prog-free</text>
<path d="M306.9,133.1 H318.2" stroke="#41609f" stroke-width="1.2" fill="none"/>
<path d="M312.55,133.4 V131.2" stroke="#41609f" stroke-width="0.9"/>
<path d="M306.9,146.5 H318.4" stroke="#b9163d" stroke-width="1.2" fill="none" stroke-dasharray="2.5 1.9"/>
<path d="M312.65,146.8 V144.6" stroke="#b9163d" stroke-width="0.9"/>
<text x="321.50" y="135.50" font-size="8.4" textLength="48.20" lengthAdjust="spacingAndGlyphs">U-MRD in PB</text>
<text x="321.50" y="148.60" font-size="8.4" textLength="53.20" lengthAdjust="spacingAndGlyphs">MRD-pos in PB</text>
<text x="382.80" y="135.60" font-size="8.4" textLength="7.80" lengthAdjust="spacingAndGlyphs">16</text>
<text x="410.10" y="135.60" font-size="8.4" textLength="7.80" lengthAdjust="spacingAndGlyphs">15</text>
<text x="382.80" y="148.40" font-size="8.4" textLength="7.80" lengthAdjust="spacingAndGlyphs">13</text>
<text x="411.70" y="148.40" font-size="8.4" textLength="4.10" lengthAdjust="spacingAndGlyphs">8</text>
<path d="M49.6,225.1 V230.8 H74.2 V234.2 H89 V237.1 H113 V240.4 H122.5 V247 H124 V252 H139.2 V255.7 H156.9 V260 H162.3 V263.8 H180.5 V272 H182.5 V280.1 H195.8 V286.2 H200.3 V291.8 H205.7 V298.5 H213 V306.1 H233.1 V350.4" stroke="#b9163d" stroke-width="1.2" fill="none" stroke-dasharray="2.5 1.9"/>
<path d="M43,224.4 H134.6 V235 H170.7 V249.2 H223.5" stroke="#41609f" stroke-width="1.2" fill="none"/>
<path d="M87.6,234.5 V232.6 M104.5,237.4 V235.5 M118.4,240.70000000000002 V238.8 M146.2,256.0 V254.1 M171.5,264.1 V262.2 M176.2,264.1 V262.2" stroke="#b9163d" stroke-width="0.9" fill="none"/>
<path d="M50.6,224.70000000000002 V222.4 M161.2,235.3 V233.0 M180.8,249.5 V247.2 M184.2,249.5 V247.2 M193.5,249.5 V247.2 M199.2,249.5 V247.2 M214.2,249.5 V247.2 M222.3,249.5 V247.2" stroke="#41609f" stroke-width="0.9" fill="none"/>
<text x="61.60" y="308.70" font-size="8.4" textLength="25.10" lengthAdjust="spacingAndGlyphs">p=0.08</text>
<text x="138.50" y="320.40" font-size="8.4" textLength="3.80" lengthAdjust="spacingAndGlyphs">n</text>
<text x="151.20" y="320.40" font-size="8.4" textLength="33.10" lengthAdjust="spacingAndGlyphs">Prog-free</text>
<path d="M47,328.7 H58" stroke="#41609f" stroke-width="1.2" fill="none"/>
<path d="M52.50,329.0 V326.8" stroke="#41609f" stroke-width="0.9"/>
<path d="M47,342.3 H58.3" stroke="#b9163d" stroke-width="1.2" fill="none" stroke-dasharray="2.5 1.9"/>
<path d="M52.65,342.6 V340.40000000000003" stroke="#b9163d" stroke-width="0.9"/>
<text x="61.60" y="331.00" font-size="8.4" textLength="61.50" lengthAdjust="spacingAndGlyphs"><tspan>MRD &lt;10</tspan><tspan font-size="5.71" dy="-3.30">-6</tspan><tspan dy="3.30"> in BM</tspan></text>
<text x="61.60" y="344.40" font-size="8.4" textLength="69.90" lengthAdjust="spacingAndGlyphs"><tspan>MRD &gt;/=10</tspan><tspan font-size="5.71" dy="-3.30">-6</tspan><tspan dy="3.30"> in BM</tspan></text>
<text x="136.50" y="330.80" font-size="8.4" textLength="7.90" lengthAdjust="spacingAndGlyphs">13</text>
<text x="163.80" y="330.80" font-size="8.4" textLength="7.90" lengthAdjust="spacingAndGlyphs">11</text>
<text x="136.50" y="344.20" font-size="8.4" textLength="7.90" lengthAdjust="spacingAndGlyphs">40</text>
<text x="163.80" y="344.20" font-size="8.4" textLength="7.90" lengthAdjust="spacingAndGlyphs">21</text>
<path d="M310,224 V233.3 H385 V246 H399.2 V259.2 H440 V282 H441.3 V304.8 H465.2" stroke="#b9163d" stroke-width="1.2" fill="none" stroke-dasharray="2.5 1.9"/>
<path d="M304,223.3 H394.7 V241.1 H473.7" stroke="#41609f" stroke-width="1.2" fill="none"/>
<path d="M352.3,223.60000000000002 V221.3 M439.6,241.4 V239.1 M444,241.4 V239.1 M464,241.4 V239.1 M466.5,241.4 V239.1 M473,241.4 V239.1" stroke="#41609f" stroke-width="0.9" fill="none"/>
<path d="M312.5,233.60000000000002 V231.70000000000002 M354.4,233.60000000000002 V231.70000000000002 M366.3,233.60000000000002 V231.70000000000002 M406,259.5 V257.59999999999997 M432,259.5 V257.59999999999997 M436.7,259.5 V257.59999999999997 M455,305.1 V303.2 M464.6,305.1 V303.2" stroke="#b9163d" stroke-width="0.9" fill="none"/>
<text x="320.00" y="308.50" font-size="8.4" textLength="25.40" lengthAdjust="spacingAndGlyphs">p=0.13</text>
<text x="395.40" y="320.10" font-size="8.4" textLength="6.10" lengthAdjust="spacingAndGlyphs">N</text>
<text x="409.70" y="320.10" font-size="8.4" textLength="32.90" lengthAdjust="spacingAndGlyphs">Prog-free</text>
<path d="M306,327.7 H317" stroke="#41609f" stroke-width="1.2" fill="none"/>
<path d="M311.50,328.0 V325.8" stroke="#41609f" stroke-width="0.9"/>
<path d="M306,342.3 H317" stroke="#b9163d" stroke-width="1.2" fill="none" stroke-dasharray="2.5 1.9"/>
<path d="M311.50,342.6 V340.40000000000003" stroke="#b9163d" stroke-width="0.9"/>
<text x="320.00" y="330.00" font-size="8.4" textLength="59.50" lengthAdjust="spacingAndGlyphs"><tspan>MRD &lt;10</tspan><tspan font-size="5.71" dy="-3.30">-6</tspan><tspan dy="3.30"> in PB</tspan></text>
<text x="320.00" y="343.80" font-size="8.4" textLength="68.20" lengthAdjust="spacingAndGlyphs"><tspan>MRD &gt;/=10</tspan><tspan font-size="5.71" dy="-3.30">-6</tspan><tspan dy="3.30"> in PB</tspan></text>
<text x="396.50" y="329.90" font-size="8.4" textLength="4.30" lengthAdjust="spacingAndGlyphs">8</text>
<text x="423.80" y="329.90" font-size="8.4" textLength="4.40" lengthAdjust="spacingAndGlyphs">7</text>
<text x="394.60" y="344.20" font-size="8.4" textLength="8.40" lengthAdjust="spacingAndGlyphs">13</text>
<text x="423.80" y="344.20" font-size="8.4" textLength="4.40" lengthAdjust="spacingAndGlyphs">8</text>
<path d="M195,437.4 H228.1" stroke="#6f4a9c" stroke-width="1.2" fill="none" stroke-dasharray="1.1 1.2"/>
<path d="M228,437.7 V435.4" stroke="#6f4a9c" stroke-width="0.9" fill="none"/>
<path d="M125,437.4 H195.9 V463.6 H229.7" stroke="#72bd48" stroke-width="1.2" fill="none" stroke-dasharray="6 1.6 1 1.6"/>
<path d="M164.2,437.7 V435.4 M175,437.7 V435.4 M185.4,437.7 V435.4 M188.8,437.7 V435.4 M197,463.90000000000003 V461.6 M203.8,463.90000000000003 V461.6 M228,463.90000000000003 V461.6" stroke="#72bd48" stroke-width="0.9" fill="none"/>
<path d="M49.2,438.2 V447.9 H75.2 V452.7 H92.3 V457.8 H115.4 V462.7 H125.4 V474.7 H137.7 V479.9 H143.1 V485.8 H165.4 V491.5 H174.6 V497.3 H185.1 V514.2 H205.4 V522.3 H210.8 V532.3 H218.9 V541.1 H239.5 V569.8" stroke="#b9163d" stroke-width="1.2" fill="none" stroke-dasharray="2.5 1.9"/>
<path d="M43.1,437.4 H125.6 V447.3 H160.5 V457.7 H188.5 V472 H201.1 V488.2 H239.6" stroke="#41609f" stroke-width="1.2" fill="none"/>
<path d="M51.2,437.7 V435.4 M89,437.7 V435.4 M92.9,437.7 V435.4 M107.7,437.7 V435.4 M120.4,437.7 V435.4 M176.2,458.0 V455.7 M180.3,458.0 V455.7 M184.2,458.0 V455.7 M199.2,472.3 V470.0 M210.8,488.5 V486.2 M229.2,488.5 V486.2 M235,488.5 V486.2 M238.5,488.5 V486.2" stroke="#41609f" stroke-width="0.9" fill="none"/>
<path d="M46.0,533.4 H58.2" stroke="#72bd48" stroke-width="1.2" fill="none" stroke-dasharray="6 1.6 1 1.6" stroke-dashoffset="7.6"/>
<path d="M52.55,533.6999999999999 V531.5" stroke="#72bd48" stroke-width="0.9"/>
<text x="61.80" y="536.10" font-size="8.4" textLength="82.80" lengthAdjust="spacingAndGlyphs">Mutated, U-MRD in BM</text>
<text x="170.00" y="536.10" font-size="8.4" text-anchor="middle">10</text>
<text x="187.40" y="536.10" font-size="8.4" text-anchor="middle">9</text>
<path d="M46.9,543.3 H58.2" stroke="#6f4a9c" stroke-width="1.2" fill="none" stroke-dasharray="1.1 1.2"/>
<path d="M52.55,543.5999999999999 V541.4" stroke="#6f4a9c" stroke-width="0.9"/>
<text x="61.80" y="546.00" font-size="8.4" textLength="92.80" lengthAdjust="spacingAndGlyphs">Unmutated, U-MRD in BM</text>
<text x="170.00" y="546.00" font-size="8.4" text-anchor="middle">4</text>
<text x="187.40" y="546.00" font-size="8.4" text-anchor="middle">4</text>
<path d="M46.9,553.1 H58.2" stroke="#41609f" stroke-width="1.2" fill="none"/>
<path d="M52.55,553.4 V551.2" stroke="#41609f" stroke-width="0.9"/>
<text x="61.80" y="555.80" font-size="8.4" textLength="90.00" lengthAdjust="spacingAndGlyphs">Mutated, MRD-pos in BM</text>
<text x="170.00" y="555.80" font-size="8.4" text-anchor="middle">17</text>
<text x="187.40" y="555.80" font-size="8.4" text-anchor="middle">13</text>
<path d="M46.9,563.0 H58.2" stroke="#b9163d" stroke-width="1.2" fill="none" stroke-dasharray="2.5 1.9"/>
<path d="M52.55,563.3 V561.1" stroke="#b9163d" stroke-width="0.9"/>
<text x="61.80" y="565.50" font-size="8.4" textLength="100.20" lengthAdjust="spacingAndGlyphs">Unmutated, MRD-pos in BM</text>
<text x="170.00" y="565.50" font-size="8.4" text-anchor="middle">26</text>
<text x="187.40" y="565.50" font-size="8.4" text-anchor="middle">9</text>
<text x="166.90" y="523.50" font-size="8.4" textLength="5.90" lengthAdjust="spacingAndGlyphs">N</text>
<text x="177.70" y="519.50" font-size="8.4" textLength="18.60" lengthAdjust="spacingAndGlyphs">Prog-</text>
<text x="187.20" y="528.50" font-size="8.4" text-anchor="middle" textLength="13.30" lengthAdjust="spacingAndGlyphs">free</text>
<path d="M200.7,551.2 C202.5,551.2 202.5,552.2 202.5,554 L202.5,555.4 C202.5,556.6 203,557.1 204.5,557.1 C203,557.1 202.5,557.6 202.5,558.8 L202.5,560.3 C202.5,562.1 202.5,563.1 200.7,563.1" fill="none" stroke="#231f20" stroke-width="0.95"/>
<text x="206.90" y="559.50" font-size="8.4" textLength="24.90" lengthAdjust="spacingAndGlyphs">p=0.03</text>
<path d="M384,440.7 H395 V451.3 H431.5 V465.8 H484.7" stroke="#6f4a9c" stroke-width="1.2" fill="none" stroke-dasharray="1.1 1.2"/>
<path d="M422.7,451.6 V449.3 M427,451.6 V449.3 M431,451.6 V449.3 M442,466.1 V463.8 M448,466.1 V463.8 M454,466.1 V463.8 M459.8,466.1 V463.8 M465.6,466.1 V463.8 M474.2,466.1 V463.8 M484,466.1 V463.8" stroke="#6f4a9c" stroke-width="0.9" fill="none"/>
<path d="M311,440.7 H384.2 V453.6 H442.4 V468.1 H466.4 V485.4 H494 V570.2" stroke="#72bd48" stroke-width="1.15" fill="none"/>
<path d="M348.5,441.0 V438.7 M483.7,485.7 V483.4 M490.8,485.7 V483.4" stroke="#72bd48" stroke-width="0.9" fill="none"/>
<path d="M310,441.5 V448.8 H352 V456.7 H385.4 V469.6 H418 V482.1 H423.3 V494.3 H444.6 V513.7 H461 V532.8 H493.9" stroke="#b9163d" stroke-width="1.2" fill="none" stroke-dasharray="2.5 1.9"/>
<path d="M304.2,440.7 H311.9 V450.4 H335.6 V460.4 H375 V470.6 H383.6 V480.8 H400.8 V490.5 H441.3 V510.6 H457.4 V540.3 H473.8 V570.2" stroke="#41609f" stroke-width="1.2" fill="none"/>
<path d="M354.8,457.0 V455.09999999999997 M366.3,457.0 V455.09999999999997 M379.8,457.0 V455.09999999999997" stroke="#b9163d" stroke-width="0.9" fill="none"/>
<text x="321.80" y="511.50" font-size="8.4" textLength="80.60" lengthAdjust="spacingAndGlyphs"><tspan>p=0.01 (&lt;10</tspan><tspan font-size="5.71" dy="-3.30">-5</tspan><tspan dy="3.30"> vs ≥10</tspan><tspan font-size="5.71" dy="-3.30">-5</tspan><tspan dy="3.30">)</tspan></text>
<path d="M306.9,534.0 H318.5" stroke="#6f4a9c" stroke-width="1.2" fill="none" stroke-dasharray="1.1 1.2"/>
<path d="M312.70,534.3 V532.1" stroke="#6f4a9c" stroke-width="0.9"/>
<text x="321.80" y="536.60" font-size="8.4" textLength="62.40" lengthAdjust="spacingAndGlyphs"><tspan>MRD &lt;10</tspan><tspan font-size="5.71" dy="-3.30">-6</tspan><tspan dy="3.30"> in BM</tspan></text>
<text x="421.60" y="536.60" font-size="8.4" text-anchor="middle">13</text>
<text x="441.60" y="536.60" font-size="8.4" text-anchor="middle">11</text>
<path d="M306.9,543.2 H318.5" stroke="#72bd48" stroke-width="1.2" fill="none"/>
<path d="M312.70,543.5 V541.3000000000001" stroke="#72bd48" stroke-width="0.9"/>
<text x="321.80" y="545.80" font-size="8.4" textLength="89.20" lengthAdjust="spacingAndGlyphs"><tspan>MRD 10</tspan><tspan font-size="5.71" dy="-3.30">-6</tspan><tspan dy="3.30"> to &lt;10</tspan><tspan font-size="5.71" dy="-3.30">-5</tspan><tspan dy="3.30"> in BM</tspan></text>
<text x="421.60" y="545.80" font-size="8.4" text-anchor="middle">11</text>
<text x="441.60" y="545.80" font-size="8.4" text-anchor="middle">7</text>
<path d="M306.9,552.9 H318.5" stroke="#b9163d" stroke-width="1.2" fill="none" stroke-dasharray="2.5 1.9"/>
<path d="M312.70,553.1999999999999 V551.0" stroke="#b9163d" stroke-width="0.9"/>
<text x="321.80" y="555.40" font-size="8.4" textLength="88.40" lengthAdjust="spacingAndGlyphs"><tspan>MRD 10</tspan><tspan font-size="5.71" dy="-3.30">-5</tspan><tspan dy="3.30"> to &lt;10</tspan><tspan font-size="5.71" dy="-3.30">-4</tspan><tspan dy="3.30"> in BM</tspan></text>
<text x="421.60" y="555.40" font-size="8.4" text-anchor="middle">16</text>
<text x="441.60" y="555.40" font-size="8.4" text-anchor="middle">9</text>
<path d="M306.9,562.3 H318.5" stroke="#41609f" stroke-width="1.2" fill="none"/>
<path d="M312.70,562.5999999999999 V560.4" stroke="#41609f" stroke-width="0.9"/>
<text x="321.80" y="565.10" font-size="8.4" textLength="70.20" lengthAdjust="spacingAndGlyphs"><tspan>MRD &gt;/=10</tspan><tspan font-size="5.71" dy="-3.30">-4</tspan><tspan dy="3.30"> in BM</tspan></text>
<text x="421.60" y="565.10" font-size="8.4" text-anchor="middle">13</text>
<text x="441.60" y="565.10" font-size="8.4" text-anchor="middle">5</text>
<text x="418.00" y="524.20" font-size="8.4" textLength="6.40" lengthAdjust="spacingAndGlyphs">N</text>
<text x="432.40" y="519.80" font-size="8.4" textLength="18.60" lengthAdjust="spacingAndGlyphs">Prog-</text>
<text x="441.20" y="529.00" font-size="8.4" text-anchor="middle" textLength="13.30" lengthAdjust="spacingAndGlyphs">free</text>
<rect x="0.55" y="0.5" width="518.85" height="607.8" fill="none" stroke="#000" stroke-width="1.15"/>
</svg>
</body></html>
